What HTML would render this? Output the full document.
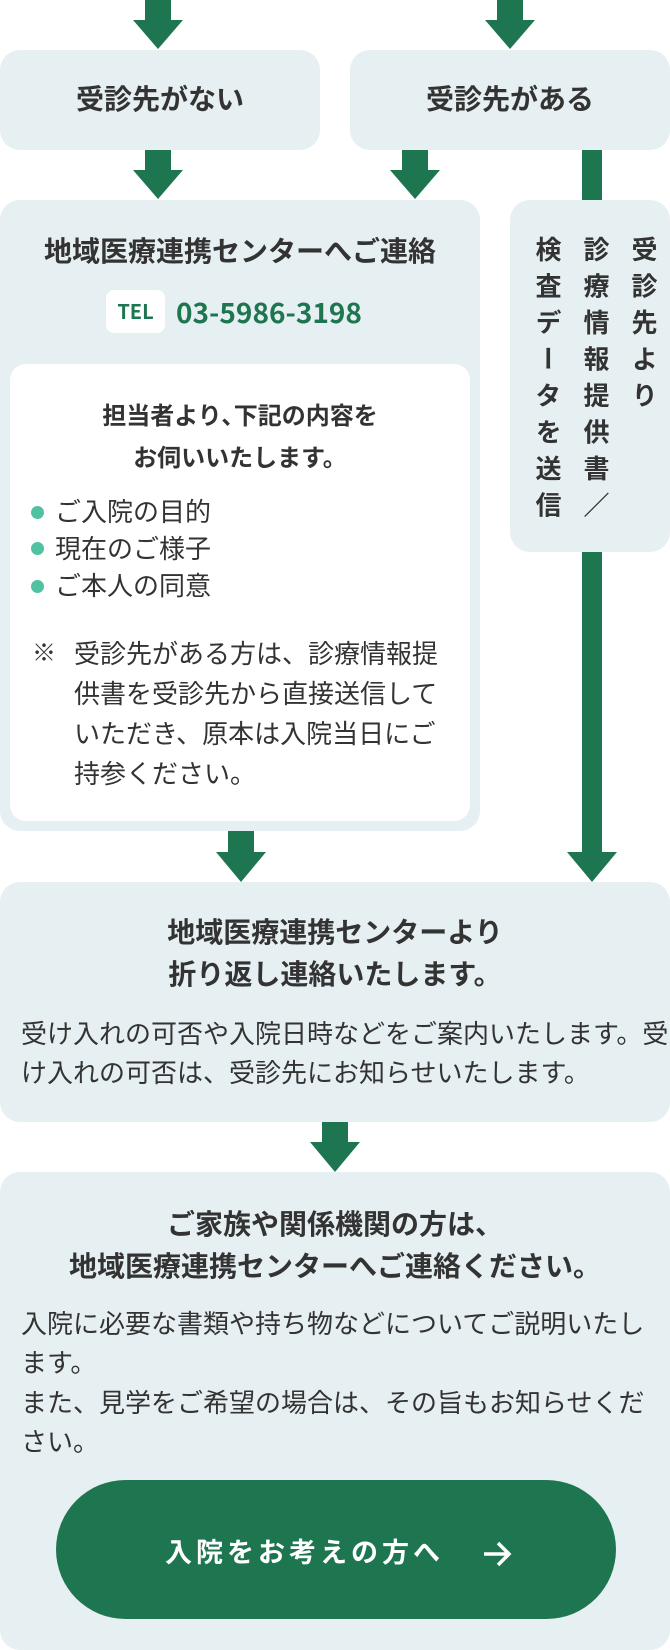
<!DOCTYPE html>
<html><head><meta charset="utf-8"><style>
*{margin:0;padding:0;box-sizing:border-box}
body{width:670px;height:1650px;position:relative;background:#fff;font-family:"Liberation Sans","Noto Sans CJK JP",sans-serif;color:#333;overflow:hidden}
.b{position:absolute;background:#e6eff2;border-radius:20px}
.t{position:absolute;white-space:nowrap}
.c{text-align:center;left:0;right:0}
.bold{font-weight:bold}
.g{color:#1e7650}
.dot{position:absolute;width:13px;height:13px;border-radius:50%;background:#4fc3a1}
</style></head><body>
<svg width="670" height="1650" style="position:absolute;left:0;top:0" fill="#1e7650">
<rect x="145" y="0" width="26" height="21"/><polygon points="133,20 183,20 158,49"/>
<rect x="497" y="0" width="26" height="21"/><polygon points="485,20 535,20 510,49"/>
<rect x="145" y="150" width="26" height="21"/><polygon points="133,170 183,170 158,199"/>
<rect x="402" y="150" width="26" height="21"/><polygon points="390,170 440,170 415,199"/>
<rect x="582" y="150" width="20" height="52"/>
<rect x="582" y="550" width="20" height="303"/><polygon points="567,852 617,852 592,882"/>
<rect x="228" y="831" width="26" height="22"/><polygon points="216,852 266,852 241,882"/>
<rect x="322" y="1122" width="26" height="21"/><polygon points="310,1142 360,1142 335,1172"/>
</svg>

<div class="b" style="left:0;top:50px;width:320px;height:100px"></div>
<div class="t bold" style="left:0;width:320px;top:82px;text-align:center;font-size:28px;line-height:35px">受診先がない</div>
<div class="b" style="left:350px;top:50px;width:320px;height:100px"></div>
<div class="t bold" style="left:350px;width:320px;top:82px;text-align:center;font-size:28px;line-height:35px">受診先がある</div>

<div class="b" style="left:0;top:200px;width:480px;height:631px"></div>
<div class="t bold" style="left:0;width:480px;top:234px;text-align:center;font-size:28px;line-height:35px">地域医療連携センターへご連絡</div>
<div style="position:absolute;left:106px;top:290px;width:59px;height:43px;background:#fff;border-radius:8px"></div>
<div class="t bold g" style="left:106px;width:59px;top:298px;text-align:center;font-size:20px;line-height:26px;font-family:'Noto Sans CJK JP',sans-serif">TEL</div>
<div class="t bold g" style="left:176px;top:292px;font-size:28px;line-height:40px;font-family:'Noto Sans CJK JP',sans-serif">03-5986-3198</div>

<div style="position:absolute;left:10px;top:364px;width:460px;height:457px;background:#fff;border-radius:16px"></div>
<div class="t bold" style="left:10px;width:460px;top:396px;text-align:center;font-size:24px;line-height:42px">担当者より､下記の内容を<br>お伺いいたします。</div>
<div class="dot" style="left:31px;top:506px"></div>
<div class="dot" style="left:31px;top:542px"></div>
<div class="dot" style="left:31px;top:580px"></div>
<div class="t" style="left:55px;top:494px;font-size:26px;line-height:37px">ご入院の目的<br>現在のご様子<br>ご本人の同意</div>
<div class="t" style="left:32px;top:634px;font-size:24px;line-height:40px">※</div>
<div class="t" style="left:74px;top:634px;font-size:26px;line-height:40px">受診先がある方は、診療情報提<br>供書を受診先から直接送信して<br>いただき、原本は入院当日にご<br>持参ください。</div>

<div class="b" style="left:510px;top:200px;width:160px;height:352px"></div>
<div class="t bold" style="left:630px;top:236px;writing-mode:vertical-rl;font-size:26px;line-height:26px;letter-spacing:10.5px">受診先より</div>
<div class="t bold" style="left:582px;top:236px;writing-mode:vertical-rl;font-size:26px;line-height:26px;letter-spacing:10.5px">診療情報提供書／</div>
<div class="t bold" style="left:534px;top:236px;writing-mode:vertical-rl;font-size:26px;line-height:26px;letter-spacing:10.5px">検査データを送信</div>

<div class="b" style="left:0;top:882px;width:670px;height:240px"></div>
<div class="t bold c" style="top:912px;font-size:28px;line-height:42px">地域医療連携センターより<br>折り返し連絡いたします。</div>
<div class="t" style="left:21px;top:1015px;font-size:26px;line-height:39px">受け入れの可否や入院日時などをご案内いたします。受<br>け入れの可否は、受診先にお知らせいたします。</div>

<div class="b" style="left:0;top:1172px;width:670px;height:478px"></div>
<div class="t bold c" style="top:1204px;font-size:28px;line-height:42px">ご家族や関係機関の方は、<br>地域医療連携センターへご連絡ください。</div>
<div class="t" style="left:21px;top:1305px;font-size:26px;line-height:39.3px">入院に必要な書類や持ち物などについてご説明いたし<br>ます。<br>また、見学をご希望の場合は、その旨もお知らせくだ<br>さい。</div>
<div style="position:absolute;left:56px;top:1480px;width:560px;height:139px;background:#1e7650;border-radius:70px"></div>
<div class="t bold" style="left:165px;top:1535px;font-size:27px;line-height:36px;color:#fff;letter-spacing:4px">入院をお考えの方へ</div>
<svg style="position:absolute;left:481px;top:1540px" width="32" height="28" viewBox="0 0 32 28"><path d="M3 14H28M17 3L28 14L17 25" stroke="#fff" stroke-width="3.5" fill="none"/></svg>
</body></html>
